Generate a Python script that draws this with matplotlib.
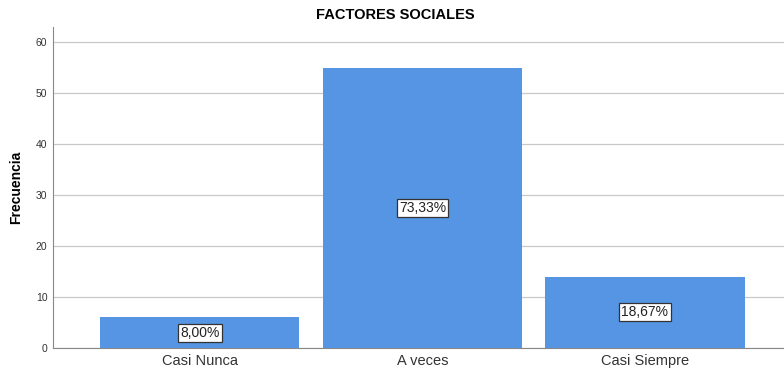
import matplotlib.pyplot as plt
import numpy as np

plt.rcParams["font.family"] = ["Liberation Sans", "DejaVu Sans"]

categorias = ["Casi Nunca", "A veces", "Casi Siempre"]
frecuencias = [6, 55, 14]
porcentajes = ["8,00%", "73,33%", "18,67%"]
yticks = [0, 10, 20, 30, 40, 50, 60]

fig = plt.figure(figsize=(7.84, 3.72), dpi=100)
ax = fig.add_axes([0.0676, 0.0645, 0.9324, 0.8625])

x = np.arange(len(categorias))
ax.bar(x, frecuencias, width=0.895, color="#5694e4", zorder=3)

for xi, f, p in zip(x, frecuencias, porcentajes):
    ax.text(xi, f / 2, p, ha="center", va="center", fontsize=10, color="#222222", zorder=4,
            bbox=dict(boxstyle="square,pad=0.15", facecolor="white", edgecolor="#333333", linewidth=0.9))

ax.set_xlim(-0.66, 2.625)
ax.set_ylim(0, 63)
ax.set_yticks(yticks)
ax.set_xticks(x)
ax.set_xticklabels(categorias, fontsize=10.5, color="#333333")
ax.tick_params(axis="y", length=0, labelsize=7.5, labelcolor="#333333", pad=4)
ax.tick_params(axis="x", length=0, pad=4)

ax.yaxis.grid(True, color="#c8c8c8", linewidth=0.9, zorder=0)
ax.spines["top"].set_visible(False)
ax.spines["right"].set_visible(False)
ax.spines["left"].set_color("#888888")
ax.spines["bottom"].set_color("#888888")

ax.set_ylabel("Frecuencia", fontsize=10, fontweight="bold", labelpad=9)
fig.text(0.504, 0.96, "FACTORES SOCIALES", ha="center", va="center", fontsize=10.5, fontweight="bold")

fig.savefig("out.png", dpi=100)
